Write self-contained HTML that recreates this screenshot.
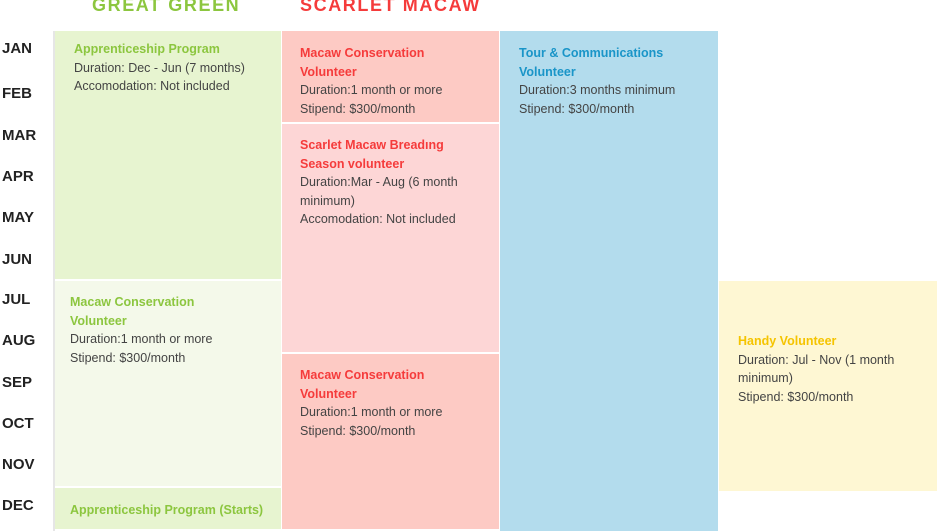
<!DOCTYPE html>
<html><head><meta charset="utf-8"><style>
body{margin:0;width:937px;height:531px;position:relative;background:#fff;font-family:"Liberation Sans",sans-serif;overflow:hidden}
.b{position:absolute}
.t{position:absolute;font-size:12.5px;line-height:18.5px;color:#444}
.t b{display:block}
.m{position:absolute;left:2px;font-weight:bold;font-size:15px;color:#222;line-height:18px}
.h{position:absolute;top:-5px;font-weight:bold;font-size:18px;letter-spacing:1.6px}
</style></head><body>
<div class="h" style="left:92px;color:#8cc63f">GREAT GREEN</div>
<div class="h" style="left:300px;color:#f53b3b">SCARLET MACAW</div>
<div class="b" style="left:53px;top:31px;width:2px;height:500px;background:#e6e6e6"></div>
<div class="b" style="left:55px;top:31px;width:226px;height:248px;background:#e7f4d0"></div>
<div class="b" style="left:55px;top:281px;width:226px;height:205px;background:#f4f9ea"></div>
<div class="b" style="left:55px;top:488px;width:226px;height:41px;background:#e7f4d0"></div>
<div class="b" style="left:282px;top:31px;width:217px;height:91px;background:#fdcac4"></div>
<div class="b" style="left:282px;top:124px;width:217px;height:228px;background:#fdd6d6"></div>
<div class="b" style="left:282px;top:354px;width:217px;height:175px;background:#fdcac4"></div>
<div class="b" style="left:500px;top:31px;width:218px;height:500px;background:#b3dced"></div>
<div class="b" style="left:719px;top:281px;width:218px;height:210px;background:#fef7d3"></div>

<div class="m" style="top:40px">JAN</div>
<div class="m" style="top:85px">FEB</div>
<div class="m" style="top:127px">MAR</div>
<div class="m" style="top:168px">APR</div>
<div class="m" style="top:209px">MAY</div>
<div class="m" style="top:251px">JUN</div>
<div class="m" style="top:291px">JUL</div>
<div class="m" style="top:332px">AUG</div>
<div class="m" style="top:374px">SEP</div>
<div class="m" style="top:415px">OCT</div>
<div class="m" style="top:456px">NOV</div>
<div class="m" style="top:497px">DEC</div>

<div class="t" style="left:74px;top:40px"><b style="color:#8cc63f">Apprenticeship Program</b>Duration: Dec - Jun (7 months)<br>Accomodation: Not included</div>
<div class="t" style="left:70px;top:293px"><b style="color:#8cc63f">Macaw Conservation<br>Volunteer</b>Duration:1 month or more<br>Stipend: $300/month</div>
<div class="t" style="left:70px;top:501px"><b style="color:#8cc63f">Apprenticeship Program (Starts)</b></div>
<div class="t" style="left:300px;top:44px"><b style="color:#f53b3b">Macaw Conservation<br>Volunteer</b>Duration:1 month or more<br>Stipend: $300/month</div>
<div class="t" style="left:300px;top:136px"><b style="color:#f53b3b">Scarlet Macaw Breadıng<br>Season volunteer</b>Duration:Mar - Aug (6 month<br>minimum)<br>Accomodation: Not included</div>
<div class="t" style="left:300px;top:366px"><b style="color:#f53b3b">Macaw Conservation<br>Volunteer</b>Duration:1 month or more<br>Stipend: $300/month</div>
<div class="t" style="left:519px;top:44px"><b style="color:#1a95c8">Tour &amp; Communications<br>Volunteer</b>Duration:3 months minimum<br>Stipend: $300/month</div>
<div class="t" style="left:738px;top:332px"><b style="color:#f5c400">Handy Volunteer</b>Duration: Jul - Nov (1 month<br>minimum)<br>Stipend: $300/month</div>
</body></html>
